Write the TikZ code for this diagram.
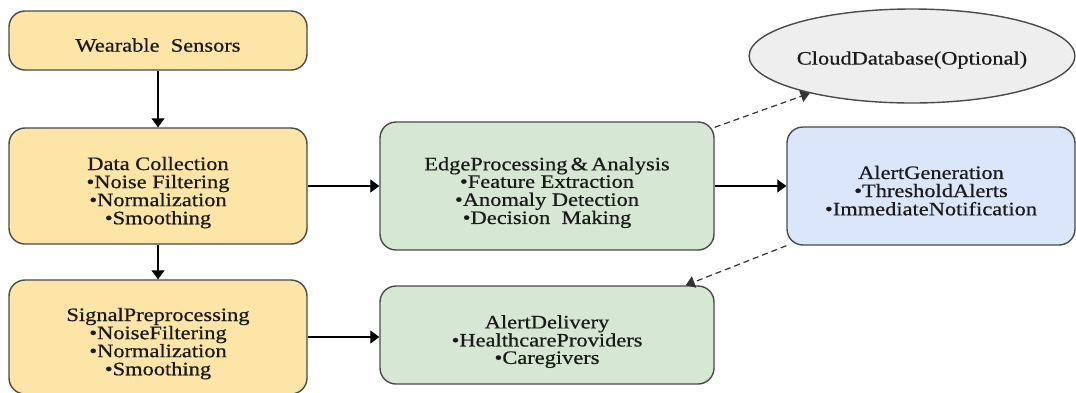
\documentclass[tikz,border=0pt]{standalone}
\usepackage{fontspec}
\setmainfont[FakeStretch=1.18,FakeBold=0.6]{Liberation Serif}
\usetikzlibrary{shapes.geometric,arrows.meta,calc}
\definecolor{yel}{HTML}{FDE4A7}
\definecolor{grn}{HTML}{D6E7D4}
\definecolor{blu}{HTML}{DAE7FA}
\definecolor{gry}{HTML}{EEEEEE}
\definecolor{edge}{HTML}{4A4A4A}
\definecolor{dedge}{HTML}{333333}
\definecolor{txt}{HTML}{1A1A1A}
\newcommand{\bt}[1]{\raisebox{-7pt}[\height][\depth]{\setlength{\tabcolsep}{0pt}\begin{tabular}{c}#1\end{tabular}}}
\tikzset{
  box/.style={draw=edge, line width=1.4pt, rounded corners=16pt, text=txt,
    font=\fontsize{19}{16.3}\selectfont, inner sep=2pt},
  yelbox/.style={box, fill=yel, minimum width=298pt},
  grnbox/.style={box, fill=grn, minimum width=334pt},
  blubox/.style={box, fill=blu},
  arr/.style={-{Triangle[length=9pt,width=13pt]}, line width=1.2pt, black},
  darr/.style={-{Triangle[length=9pt,width=12pt]}, line width=1.2pt, dedge, dash pattern=on 6pt off 4pt},
}
\begin{document}
\begin{tikzpicture}[x=1pt,y=-1pt]
\useasboundingbox (0,0) rectangle (1076,392);
\begin{scope}
\clip (0,0) rectangle (1076,392);
\node[yelbox, minimum height=59pt] (ws) at (158,40.5) {\bt{Wearable\ \ Sensors}};
\node[yelbox, minimum height=116pt] (dc) at (158,186) {\bt{Data Collection\\•Noise\ Filtering\\•Normalization\\•Smoothing}};
\node[yelbox, minimum height=114pt] (sp) at (158,337) {\bt{SignalPreprocessing\\•NoiseFiltering\\•Normalization\\•Smoothing}};
\node[grnbox, minimum height=128pt] (ep) at (547,186) {\bt{EdgeProcessing\,\&\,Analysis\\•Feature Extraction\\•Anomaly Detection\\•Decision\ \ Making}};
\node[grnbox, minimum height=98pt] (ad) at (547,335) {\bt{AlertDelivery\\•HealthcareProviders\\•Caregivers}};
\node[blubox, minimum width=288pt, minimum height=118pt] (ag) at (931,186) {\bt{AlertGeneration\\•ThresholdAlerts\\•ImmediateNotification}};
\node[ellipse, draw=edge, line width=1.4pt, fill=gry, minimum width=324pt, minimum height=94pt, inner sep=0pt, text=txt,
  font=\fontsize{19}{16}\selectfont] (cloud) at (912,56) {\raisebox{-4pt}[\height][\depth]{CloudDatabase(Optional)}};
\end{scope}
\draw[arr] (ws.south) -- (dc.north);
\draw[arr] (dc.south) -- (sp.north);
\draw[arr] (dc.east) -- (ep.west);
\draw[arr] (sp.east) -- (sp.east -| ad.west);
\draw[arr] (ep.east) -- (ag.west);
\coordinate (epc) at ($(ep.north east)+(0,6)$);
\coordinate (adc) at ($(ad.north east)+(-29,0)$);
\draw[darr] (epc) -- (cloud.200);
\draw[darr] (ag.south west) -- (adc);
\end{tikzpicture}
\end{document}
